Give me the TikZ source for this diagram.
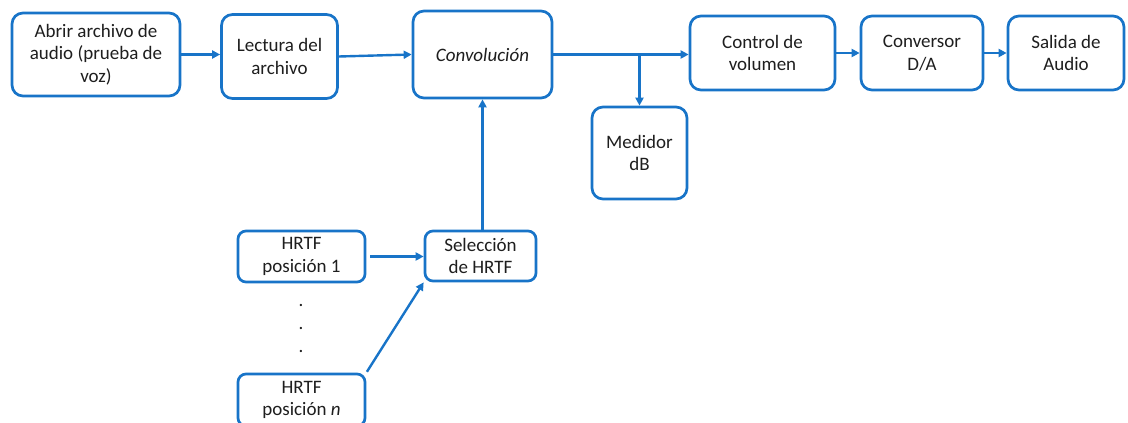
\documentclass[tikz,border=0pt]{standalone}
\usepackage{fontspec}
\setmainfont{Carlito}
\usetikzlibrary{arrows.meta}
\definecolor{flowblue}{RGB}{24,116,200}
\definecolor{ink}{RGB}{30,30,30}
\begin{document}
\begin{tikzpicture}[x=1pt,y=-1pt,
  block/.style={draw=flowblue, line width=2.7pt, rounded corners=11pt,
    fill=white, align=center, text=ink, inner sep=2pt,
    font=\fontsize{19}{22.5}\selectfont},
  flow/.style={draw=flowblue, line width=2.4pt,
    -{Triangle[length=8pt,width=8pt]}},
  dotmark/.style={text=ink, inner sep=0pt, font=\fontsize{19}{22.5}\selectfont}]
\useasboundingbox (0,0) rectangle (1128,423);

% processing chain along the top
\node[block, minimum width=168pt, minimum height=83pt] (abrir) at (96,54.5)
  {Abrir archivo de\\audio (prueba de\\voz)};
\node[block, minimum width=116pt, minimum height=84pt] (lectura) at (279.5,56.5)
  {Lectura del\\archivo};
\node[block, minimum width=139pt, minimum height=87pt] (conv) at (482.5,54.5)
  {\itshape Convolución};
\node[block, minimum width=145pt, minimum height=74pt] (control) at (762.5,53)
  {Control de\\volumen};
\node[block, minimum width=122pt, minimum height=74pt] (dac) at (922,53)
  {Conversor\\D/A};
\node[block, minimum width=116pt, minimum height=74pt] (salida) at (1066,53)
  {Salida de\\Audio};
\node[block, minimum width=95pt, minimum height=92pt] (medidor) at (639.5,153)
  {Medidor\\dB};

% HRTF selection branch
\node[block, minimum width=127pt, minimum height=51pt, rounded corners=8pt] (hrtf1) at (301.5,256.5)
  {HRTF\\posición 1};
\node[block, minimum width=111pt, minimum height=50pt, rounded corners=8pt] (sel) at (480.5,256)
  {Selección\\de HRTF};
\node[block, minimum width=127pt, minimum height=52pt, rounded corners=8pt] (hrtfn) at (301.5,400)
  {HRTF\\posición \textit{n}};
\node[dotmark] (d1) at (301,305) {.};
\node[dotmark] (d2) at (301,328) {.};
\node[dotmark] (d3) at (301,351) {.};

% connectors
\draw[flow] (abrir.east) -- (abrir.east -| lectura.west);
\draw[flow] (lectura.east) -- (conv.west);
\draw[flow] (conv.east) -- (conv.east -| control.west);
\draw[flow] (medidor.north |- conv.east) -- (medidor.north);
\draw[flow] (control.east) -- (control.east -| dac.west);
\draw[flow] (dac.east) -- (dac.east -| salida.west);
\draw[flow] (conv.south |- sel.north) -- (conv.south);
\draw[flow, shorten <=4pt] (hrtf1.east) -- (hrtf1.east -| sel.west);
\draw[flow, shorten <=1pt] (hrtfn.north east) -- (sel.south west);
\end{tikzpicture}
\end{document}
